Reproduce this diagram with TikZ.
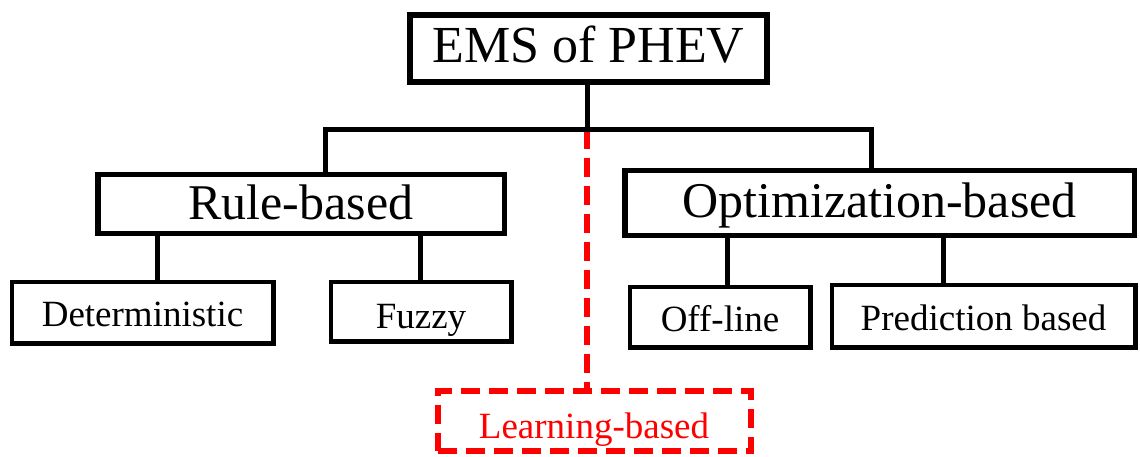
\documentclass[tikz,border=0pt]{standalone}
\usepackage{fontspec}
\setmainfont{Liberation Serif}
\begin{document}
\begin{tikzpicture}[x=1pt,y=-1pt,
  bigbox/.style={draw=black,line width=5.5pt,inner sep=0pt,fill=white,text height=38pt,text depth=8pt,font=\fontsize{50}{60}\selectfont},
  smallbox/.style={draw=black,line width=4.5pt,inner sep=0pt,fill=white,text height=33pt,text depth=5pt,font=\fontsize{37}{44}\selectfont},
  conn/.style={draw=black,line width=5pt},
  redconn/.style={draw=red,line width=6pt,dash pattern=on 19pt off 9pt},
  learnbox/.style={draw=red,line width=6pt,dash pattern=on 19pt off 9pt,inner sep=0pt,text=red,text height=38pt,text depth=3pt,font=\fontsize{37}{44}\selectfont}]
\useasboundingbox (0,0) rectangle (1140,457);
% nodes
\node[bigbox,line width=6pt,minimum width=357pt,minimum height=67pt,text height=37pt,text depth=8pt,font=\fontsize{52}{62}\selectfont] (ems) at (588.5,48.5) {EMS of PHEV};
\node[bigbox,minimum width=406.5pt,minimum height=58.5pt] (rule) at (301,204) {Rule-based};
\node[bigbox,minimum width=509.5pt,minimum height=64.5pt] (opt) at (879.5,203) {Optimization-based};
\node[smallbox,minimum width=261.5pt,minimum height=61.5pt] (det) at (142.5,312.5) {Deterministic};
\node[smallbox,minimum width=180.5pt,minimum height=59.5pt,text height=36pt,text depth=3pt] (fuz) at (421,311.5) {Fuzzy};
\node[smallbox,minimum width=180.5pt,minimum height=60.5pt] (off) at (720,317) {Off-line};
\node[smallbox,minimum width=303.5pt,minimum height=62.5pt] (pred) at (983.5,316) {Prediction based};
\node[learnbox,minimum width=313pt,minimum height=60pt] (learn) at (594,420.5) {Learning-based};
% junction coordinates
\coordinate (j) at (587,130);
\coordinate (jl) at (325,130);
\coordinate (jr) at (871,130);
\coordinate (x1) at (157,0);
\coordinate (x2) at (420,0);
\coordinate (x3) at (727,0);
\coordinate (x4) at (943,0);
% connectors
\draw[redconn] (j) -- (learn.north -| j);
\draw[conn] (ems.south -| j) -- (j);
\draw[conn,line cap=rect] (jl) -- (jr);
\draw[conn] (jl) -- (rule.north -| jl);
\draw[conn] (jr) -- (opt.north -| jr);
\draw[conn] (rule.south -| x1) -- (det.north -| x1);
\draw[conn] (rule.south -| x2) -- (fuz.north -| x2);
\draw[conn] (opt.south -| x3) -- (off.north -| x3);
\draw[conn] (opt.south -| x4) -- (pred.north -| x4);
\end{tikzpicture}
\end{document}
